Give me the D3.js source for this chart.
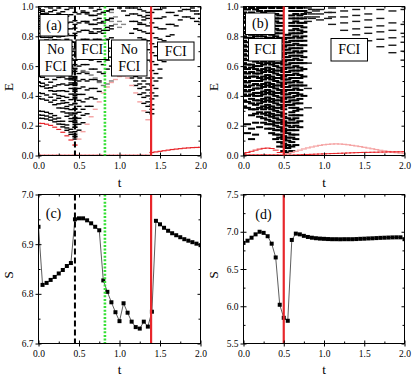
<!DOCTYPE html>
<html><head><meta charset="utf-8">
<script src="https://cdn.jsdelivr.net/npm/d3@7/dist/d3.min.js"></script>
<style>
html,body{margin:0;padding:0;background:#fff;}
svg{display:block;}
</style></head><body>
<svg id="fig" width="416" height="378"></svg>
<script>
// ---------------- data ----------------
const T = [0,0.05,0.1,0.15,0.2,0.25,0.3,0.35,0.4,0.45,0.5,0.55,0.6,0.65,0.7,0.75,0.8,0.85,0.9,0.95,1,1.05,1.1,1.15,1.2,1.25,1.3,1.35,1.4,1.45,1.5,1.55,1.6,1.65,1.7,1.75,1.8,1.85,1.9,1.95,2];

// panel (a): energy levels, each list starts at the given T index
const A_GROUND = [0,0,0,0,0,0,0,0,0,0,0,0,0,0,0,0,0,0,0,0,0,0,0,0,0,0,0,0];            // start 0
const A_GROUND2 = [0.020,0.024,0.028,0.032,0.036,0.040,0.043,0.046,0.049,0.051,0.053,0.054,0.055]; // start 28
const A_RED2 = [0.216,0.215,0.210,0.202,0.190,0.175,0.156,0.132,0.104,0.070];                 // start 0
const A_PINK = [0.07,0.11,0.16,0.21,0.26,0.31,0.36,0.42,0.46,0.49,0.51,0.53,0.535,0.52,0.47,0.42,0.36,0.30,0.24]; // start 9
const A_LEFT = [
 [0.250,0.249,0.245,0.237,0.226,0.211,0.192,0.169,0.142,0.110],
 [0.272,0.270,0.265,0.257,0.245,0.229,0.209,0.185,0.157,0.125],
 [0.298,0.296,0.290,0.281,0.268,0.251,0.230,0.205,0.176,0.143],
 [0.382,0.379,0.371,0.358,0.341,0.319,0.293,0.263,0.229,0.190],
 [0.420,0.416,0.406,0.391,0.371,0.347,0.318,0.285,0.248,0.207],
 [0.468,0.463,0.452,0.435,0.412,0.384,0.351,0.314,0.272,0.226],
 [0.490,0.485,0.473,0.455,0.431,0.402,0.368,0.329,0.285,0.237],
 [0.530,0.525,0.512,0.492,0.466,0.434,0.397,0.355,0.308,0.256],
 [0.580,0.574,0.560,0.538,0.510,0.475,0.435,0.390,0.340,0.285],
 [0.640,0.634,0.618,0.594,0.562,0.524,0.480,0.430,0.375,0.315],
 [0.700,0.693,0.676,0.650,0.616,0.574,0.526,0.472,0.412,0.347],
 [0.760,0.752,0.734,0.706,0.669,0.624,0.572,0.514,0.450,0.380],
 [0.800,0.793,0.775,0.747,0.709,0.662,0.607,0.545,0.476,0.402],
 [0.820,0.812,0.793,0.763,0.723,0.675,0.619,0.556,0.487,0.412],
 [0.850,0.842,0.822,0.791,0.750,0.700,0.642,0.578,0.508,0.432],
 [0.865,0.857,0.837,0.805,0.763,0.713,0.654,0.589,0.518,0.442],
 [0.880,0.872,0.851,0.819,0.777,0.726,0.666,0.600,0.528,0.452],
 [0.905,0.897,0.876,0.843,0.800,0.748,0.688,0.621,0.548,0.470],
 [0.920,0.912,0.890,0.857,0.814,0.761,0.700,0.632,0.558,0.479],
 [0.935,0.927,0.905,0.872,0.828,0.774,0.712,0.643,0.568,0.488],
 [0.960,0.952,0.930,0.896,0.851,0.796,0.733,0.663,0.587,0.506],
 [0.975,0.967,0.944,0.909,0.863,0.807,0.743,0.673,0.596,0.515],
 [0.985,0.977,0.955,0.920,0.874,0.818,0.754,0.683,0.606,0.524],
 [null,null,0.998,0.965,0.920,0.865,0.800,0.728,0.650,0.565],
 [null,null,null,0.990,0.945,0.890,0.825,0.752,0.672,0.585],
 [null,null,null,null,0.975,0.920,0.855,0.780,0.698,0.610],
 [null,null,null,null,null,0.955,0.890,0.815,0.730,0.640],
 [null,null,null,null,null,0.990,0.925,0.850,0.765,0.675],
 [null,null,null,null,null,null,0.965,0.890,0.805,0.715],
 [null,null,null,null,null,null,null,0.935,0.850,0.760],
 [null,null,null,null,null,null,null,0.980,0.895,0.805],
 [null,null,null,null,null,null,null,null,0.945,0.855],
 [null,null,null,null,null,null,null,null,0.990,0.905],
 [null,null,null,null,null,null,null,null,null,0.960]
]; // start 0
const A_MID = [
 [0.13,0.17,0.22,0.28,0.33,0.38,0.43,null,null,null],
 [0.16,0.21,0.27,0.33,0.39,0.45,0.50,0.55,0.58,0.60],
 [0.19,0.25,0.31,0.38,0.45,0.51,0.56,0.61,0.64,0.66],
 [0.22,0.29,0.36,0.44,0.51,0.58,0.63,0.67,0.70,0.72],
 [0.25,0.33,0.41,0.50,0.58,0.65,0.71,0.75,0.78,0.79],
 [0.28,0.37,0.46,0.55,0.64,0.72,0.78,0.82,0.84,0.85],
 [0.31,0.41,0.51,0.61,0.70,0.78,0.85,0.89,0.91,0.92],
 [0.35,0.45,0.56,0.66,0.76,0.85,0.92,0.96,0.97,0.98],
 [0.39,0.50,0.61,0.72,0.82,0.91,0.98,null,null,null],
 [0.43,0.55,0.66,0.78,0.88,0.97,null,null,null,null],
 [0.48,0.60,0.72,0.84,0.94,null,null,null,null,null],
 [0.53,0.65,0.78,0.90,0.99,null,null,null,null,null],
 [0.58,0.71,0.84,0.96,null,null,null,null,null,null],
 [0.64,0.77,0.90,null,null,null,null,null,null,null],
 [0.70,0.83,0.96,null,null,null,null,null,null,null],
 [0.76,0.89,null,null,null,null,null,null,null,null],
 [0.82,0.95,null,null,null,null,null,null,null,null],
 [0.88,null,null,null,null,null,null,null,null,null],
 [null,null,0.97,0.95,0.94,0.94,0.95,0.96,0.97,0.98],
 [null,null,null,0.89,0.88,0.88,0.89,0.90,0.91,0.92],
 [null,null,null,null,0.83,0.82,0.83,0.84,0.86,0.87]
]; // start 9
const A_MID_GRAY = [
 [null,null,0.57,0.56,0.54,0.52,0.49,0.47,0.48,0.50]
]; // start 9
const A_UP = [
 [0.99,0.97,0.94,0.90,0.85,0.79,0.72,0.64],
 [null,null,0.99,0.95,0.90,0.84,0.78,0.71],
 [null,null,null,0.99,0.95,0.89,0.83,0.77],
 [null,null,null,null,0.99,0.94,0.88,0.82],
 [null,null,null,null,null,0.98,0.93,0.87],
 [null,null,null,null,null,null,0.97,0.92],
 [null,null,null,null,null,null,null,0.96],
 [null,null,null,0.82,0.85,0.88,0.91,0.94]
]; // start 20
const A_UP_GRAY = [
 [0.96,0.93,0.90,0.88,null,null,null,null],
 [0.90,0.88,0.86,null,null,null,null,null]
]; // start 18
const A_LOW = [
 [0.56,0.52,0.47,0.41,0.35,0.29],
 [null,0.55,0.50,0.45,0.39,0.33],
 [null,null,0.53,0.48,0.42,0.36],
 [null,null,null,0.52,0.46,0.40],
 [null,null,null,null,0.50,0.44],
 [null,null,null,null,null,0.48],
 [null,null,null,null,null,0.52]
]; // start 22
const A_RIGHT = [
 [0.28,0.40,0.52,0.63,0.73,0.81,0.87,0.91,0.93,0.93,0.92,0.90,0.88],
 [0.31,0.45,0.58,0.70,0.80,0.88,0.94,0.97,0.98,0.98,0.97,0.95,0.92],
 [0.34,0.50,0.64,0.77,0.88,0.96,null,null,null,null,null,null,null],
 [0.38,0.55,0.71,0.85,0.96,null,null,null,null,null,null,null,null],
 [0.42,0.61,0.78,0.93,null,null,null,null,null,null,null,null,null],
 [0.47,0.67,0.85,0.99,null,null,null,null,null,null,null,null,null],
 [0.52,0.73,0.92,null,null,null,null,null,null,null,null,null,null],
 [0.57,0.79,0.98,null,null,null,null,null,null,null,null,null,null],
 [0.63,0.86,null,null,null,null,null,null,null,null,null,null,null],
 [0.69,0.92,null,null,null,null,null,null,null,null,null,null,null],
 [0.75,0.98,null,null,null,null,null,null,null,null,null,null,null],
 [0.82,null,null,null,null,null,null,null,null,null,null,null,null],
 [0.89,null,null,null,null,null,null,null,null,null,null,null,null],
 [0.96,null,null,null,null,null,null,null,null,null,null,null,null],
 [null,null,null,null,null,null,null,null,null,null,0.99,0.97,0.95]
]; // start 28

// panel (b): energies listed per T column (dense part, T index 0..15)
const B_DENSE = [
 [0.99,0.96,0.93,0.90,0.86,0.83,0.80,0.77,0.74,0.71,0.68,0.65,0.62,0.59,0.56,0.53,0.50,0.47,0.44,0.41,0.37,0.33],
 [0.98,0.95,0.92,0.89,0.85,0.82,0.79,0.76,0.73,0.70,0.67,0.64,0.61,0.58,0.55,0.52,0.49,0.46,0.43,0.40,0.36,0.32,0.21,0.15],
 [0.99,0.96,0.93,0.90,0.87,0.84,0.81,0.79,0.76,0.73,0.70,0.67,0.64,0.61,0.59,0.56,0.53,0.50,0.47,0.44,0.41,0.38,0.35,0.31,0.27,0.18,0.11],
 [0.98,0.95,0.92,0.89,0.86,0.83,0.80,0.78,0.75,0.72,0.69,0.66,0.63,0.60,0.58,0.55,0.53,0.50,0.48,0.45,0.42,0.40,0.37,0.34,0.31,0.28,0.22,0.14],
 [0.99,0.97,0.94,0.91,0.88,0.85,0.82,0.80,0.77,0.74,0.71,0.68,0.65,0.62,0.60,0.57,0.55,0.52,0.50,0.47,0.45,0.42,0.40,0.37,0.35,0.32,0.29,0.26,0.19],
 [0.99,0.96,0.94,0.91,0.88,0.86,0.83,0.80,0.78,0.75,0.72,0.69,0.66,0.63,0.61,0.58,0.56,0.53,0.51,0.48,0.46,0.43,0.41,0.38,0.36,0.33,0.31,0.28,0.25,0.22],
 [1.0,0.97,0.95,0.92,0.90,0.87,0.84,0.82,0.79,0.76,0.73,0.70,0.67,0.64,0.62,0.59,0.57,0.54,0.52,0.49,0.47,0.44,0.42,0.39,0.37,0.34,0.32,0.29,0.27,0.24,0.21,0.18],
 [0.99,0.97,0.94,0.92,0.89,0.87,0.84,0.81,0.79,0.76,0.74,0.71,0.68,0.66,0.63,0.61,0.58,0.56,0.53,0.51,0.48,0.46,0.43,0.41,0.38,0.36,0.33,0.31,0.28,0.26,0.23,0.21,0.18,0.15],
 [1.0,0.97,0.95,0.92,0.90,0.87,0.85,0.82,0.80,0.77,0.75,0.72,0.70,0.67,0.65,0.62,0.60,0.57,0.55,0.52,0.50,0.47,0.45,0.42,0.40,0.37,0.35,0.32,0.30,0.27,0.25,0.22,0.20,0.17,0.14,0.11],
 [0.99,0.97,0.94,0.92,0.89,0.87,0.84,0.82,0.79,0.77,0.74,0.72,0.69,0.67,0.64,0.62,0.59,0.57,0.54,0.52,0.49,0.47,0.44,0.42,0.39,0.37,0.34,0.32,0.29,0.27,0.24,0.22,0.19,0.17,0.14,0.12,0.09,0.06],
 [0.78,0.76,0.73,0.71,0.68,0.66,0.63,0.61,0.58,0.56,0.53,0.51,0.48,0.46,0.43,0.41,0.38,0.36,0.33,0.31,0.28,0.26,0.23,0.21,0.18,0.16,0.13,0.11,0.08,0.06,0.03],
 [0.81,0.79,0.76,0.74,0.71,0.69,0.66,0.64,0.61,0.59,0.56,0.54,0.51,0.49,0.46,0.44,0.41,0.39,0.36,0.34,0.25,0.22,0.20,0.17,0.15,0.12,0.10,0.07,0.05,0.02],
 [0.99,0.97,0.94,0.92,0.89,0.87,0.84,0.82,0.79,0.77,0.74,0.72,0.69,0.67,0.64,0.62,0.59,0.57,0.54,0.52,0.49,0.47,0.44,0.42,0.39,0.37,0.34,0.32,0.29,0.27,0.24,0.22,0.19,0.17,0.14,0.12,0.09,0.06,0.03],
 [1.0,0.97,0.95,0.92,0.90,0.87,0.85,0.82,0.80,0.77,0.75,0.72,0.70,0.67,0.65,0.62,0.60,0.57,0.55,0.52,0.50,0.47,0.45,0.42,0.40,0.37,0.35,0.32,0.30,0.27,0.25,0.22,0.20,0.17,0.14,0.11,0.07],
 [0.99,0.97,0.94,0.92,0.89,0.87,0.84,0.82,0.79,0.77,0.74,0.72,0.69,0.67,0.64,0.62,0.59,0.57,0.54,0.52,0.49,0.47,0.44,0.41,0.38,0.35,0.31,0.27,0.23,0.19],
 [1.0,0.97,0.95,0.92,0.89,0.86,0.83,0.80,0.77,0.74,0.70,0.66,0.62,0.58,0.53,0.47,0.40]
];
// sparse part (T index 16..40)
const B_SPARSE = [
 [0.99,0.96,0.93,0.90,0.62,0.45,0.32],
 [0.98,0.95,0.92],
 [0.97,0.93],
 [0.98,0.95,0.91],
 [],
 [0.96,0.92],
 [0.99,0.96,0.93,0.88],
 [],[],
 [0.97,0.93,0.89,0.84],
 [],[],
 [0.98,0.94,0.90,0.85,0.81],
 [],[],
 [0.95,0.91,0.86,0.82,0.77],
 [],[],
 [0.98,0.92,0.87,0.83,0.78,0.73],
 [],[],
 [0.97,0.89,0.84,0.79,0.74,0.69],
 [],[],
 [0.98,0.88,0.82,0.76,0.70,0.64]
];
const B_RED0 = [0.004,0.004,0.004,0.004,0.004,0.004,0.004,0.004,0.004,0.004,0.004];   // start 0
const B_RED1 = [0.012,0.020,0.028,0.036,0.043,0.048,0.050,0.047,0.036,0.020,0.004];   // start 0
const B_PINK = [0.004,0.012,0.020,0.028,0.036,0.044,0.051,0.057,0.063,0.068,0.072,0.075,0.077,0.078,0.077,0.075,0.072,0.068,0.064,0.060,0.055,0.050,0.045,0.040,0.035,0.031,0.027,0.023,0.019,0.016,0.013]; // start 10
const B_RED2 = [0.002,0.003,0.004,0.005,0.006,0.007,0.008,0.009,0.010,0.011,0.012,0.013,0.014,0.015,0.016,0.017,0.018,0.019,0.020,0.021,0.021,0.022,0.022,0.023,0.023,0.024,0.024,0.025,0.025,0.026]; // start 11

// panels (c), (d): S values
const S_C = [6.935,6.818,6.822,6.828,6.834,6.841,6.848,6.856,6.862,6.950,6.952,6.952,6.948,6.942,6.935,6.928,6.827,6.804,6.783,6.763,6.745,6.781,6.762,6.744,6.733,6.730,6.744,6.734,6.764,6.947,6.940,6.933,6.927,6.922,6.918,6.914,6.910,6.907,6.904,6.901,6.898];
const S_D = [6.85,6.88,6.92,6.965,7.0,6.985,6.94,6.84,6.655,6.02,5.845,5.805,6.89,6.975,6.965,6.945,6.93,6.92,6.913,6.908,6.905,6.902,6.9,6.9,6.899,6.9,6.9,6.9,6.902,6.905,6.907,6.91,6.912,6.915,6.918,6.92,6.922,6.924,6.925,6.925,6.90];

// tick labels
const X_TICKS = [0,0.5,1,1.5,2], X_MINOR = [0.25,0.75,1.25,1.75];
const E_TICKS = [0,0.2,0.4,0.6,0.8,1.0], E_MINOR = [0.1,0.3,0.5,0.7,0.9];
const SC_TICKS = [6.7,6.8,6.9,7.0], SC_MINOR = [6.75,6.85,6.95];
const SD_TICKS = [5.5,6.0,6.5,7.0,7.5], SD_MINOR = [5.75,6.25,6.75,7.25];
const LINES_AC = [{t:0.45,type:'black'},{t:0.82,type:'green'},{t:1.39,type:'red'}];
const LINES_BD = [{t:0.5,type:'red'}];

// ---------------- drawing ----------------
const SERIF = "'Liberation Serif', 'Times New Roman', 'DejaVu Serif', serif";
const svg = d3.select('#fig');
const fmt = d3.format('.1f');
const RED = '#e8262b', PINK = '#f5a3a3', GREEN = '#35e035';

function makePanel(id, xr, yr, ydom, yt, ym, ylab) {
  const x = d3.scaleLinear().domain([0,2]).range(xr);
  const y = d3.scaleLinear().domain(ydom).range(yr);
  const g = svg.append('g');
  g.append('clipPath').attr('id','clip'+id).append('rect')
    .attr('x',xr[0]).attr('y',yr[1]).attr('width',xr[1]-xr[0]).attr('height',yr[0]-yr[1]);
  const plot = g.append('g').attr('clip-path','url(#clip'+id+')');
  return {x,y,g,plot,xr,yr,yt,ym,ylab};
}

function drawAxes(p, xtitleY, ytitleX) {
  const {x,y,g,xr,yr} = p;
  const clean = s => { s.attr('font-family',null); s.select('.domain').remove();
    s.selectAll('text').style('font-family',SERIF).style('font-size','9.5px').attr('fill','#000');
    s.selectAll('line').attr('stroke','#000'); };
  g.append('g').attr('transform',`translate(0,${yr[0]})`).call(d3.axisBottom(x).tickValues(X_TICKS).tickSize(3).tickPadding(3.5).tickFormat(fmt)).call(clean);
  g.append('g').attr('transform',`translate(0,${yr[0]})`).call(d3.axisBottom(x).tickValues(X_TICKS).tickSize(-3).tickFormat('')).call(clean);
  g.append('g').attr('transform',`translate(0,${yr[0]})`).call(d3.axisBottom(x).tickValues(X_MINOR).tickSize(-2).tickFormat('')).call(clean);
  g.append('g').attr('transform',`translate(0,${yr[1]})`).call(d3.axisTop(x).tickValues(X_TICKS).tickSize(-3).tickFormat('')).call(clean);
  g.append('g').attr('transform',`translate(0,${yr[1]})`).call(d3.axisTop(x).tickValues(X_MINOR).tickSize(-2).tickFormat('')).call(clean);
  g.append('g').attr('transform',`translate(${xr[0]},0)`).call(d3.axisLeft(y).tickValues(p.yt).tickSize(3).tickPadding(2).tickFormat(fmt)).call(clean);
  g.append('g').attr('transform',`translate(${xr[0]},0)`).call(d3.axisLeft(y).tickValues(p.yt).tickSize(-3).tickFormat('')).call(clean);
  g.append('g').attr('transform',`translate(${xr[0]},0)`).call(d3.axisLeft(y).tickValues(p.ym).tickSize(-2).tickFormat('')).call(clean);
  g.append('g').attr('transform',`translate(${xr[1]},0)`).call(d3.axisRight(y).tickValues(p.yt).tickSize(-3).tickFormat('')).call(clean);
  g.append('g').attr('transform',`translate(${xr[1]},0)`).call(d3.axisRight(y).tickValues(p.ym).tickSize(-2).tickFormat('')).call(clean);
  g.append('rect').attr('x',xr[0]).attr('y',yr[1]).attr('width',xr[1]-xr[0]).attr('height',yr[0]-yr[1])
    .attr('fill','none').attr('stroke','#000').attr('stroke-width',1);
  g.append('text').attr('x',(xr[0]+xr[1])/2).attr('y',xtitleY).attr('text-anchor','middle')
    .style('font-family',SERIF).style('font-size','13px').text('t');
  const cy = (yr[0]+yr[1])/2 + 6;
  g.append('text').attr('transform',`translate(${ytitleX},${cy}) rotate(-90)`).attr('text-anchor','middle')
    .style('font-family',SERIF).style('font-size','13px').text(p.ylab);
}

function dashes(p, levels, start, color, w, h) {
  const pts = [];
  levels.forEach(L => L.forEach((e,j) => { if (e !== null && e !== undefined) pts.push([T[start+j], e]); }));
  p.plot.append('g').selectAll('rect').data(pts).join('rect')
    .attr('x', d => p.x(d[0]) - w/2).attr('y', d => p.y(d[1]) - h/2)
    .attr('width', w).attr('height', h).attr('fill', color);
}

function columns(p, cols, start, color, w, h) {
  const pts = [];
  cols.forEach((c,i) => c.forEach(e => pts.push([T[start+i], e])));
  p.plot.append('g').selectAll('rect').data(pts).join('rect')
    .attr('x', d => p.x(d[0]) - w/2).attr('y', d => p.y(d[1]) - h/2)
    .attr('width', w).attr('height', h).attr('fill', color);
}

function vlines(p, lines) {
  lines.forEach(l => {
    const ln = p.g.append('line').attr('x1',p.x(l.t)).attr('x2',p.x(l.t))
      .attr('y1',p.yr[1]).attr('y2',p.yr[0]);
    if (l.type==='red') ln.attr('stroke',RED).attr('stroke-width',2.2);
    if (l.type==='green') ln.attr('stroke',GREEN).attr('stroke-width',2.6).attr('stroke-dasharray','2,1.6');
    if (l.type==='black') ln.attr('stroke','#000').attr('stroke-width',2).attr('stroke-dasharray','6,3');
  });
}

function box(p, x0, y0, x1, y1, lines, size) {
  p.g.append('rect').attr('x',x0).attr('y',y0).attr('width',x1-x0).attr('height',y1-y0)
    .attr('fill','#fff').attr('stroke','#000').attr('stroke-width',1);
  const cx = (x0+x1)/2, cy = (y0+y1)/2;
  const lh = 17;
  lines.forEach((s,i) => {
    p.g.append('text').attr('x',cx).attr('y',cy + (i-(lines.length-1)/2)*lh + size*0.33)
      .attr('text-anchor','middle').style('font-family',SERIF).style('font-size',size+'px').text(s);
  });
}

// ---- panel (a)
const pa = makePanel('a',[38.5,200.5],[155.5,6.5],[0,1],E_TICKS,E_MINOR,'E');
dashes(pa, A_LEFT, 0, '#000', 5, 1.4);
dashes(pa, A_MID, 9, '#000', 5, 1.4);
dashes(pa, A_MID_GRAY, 9, '#777', 5, 1.4);
dashes(pa, A_UP, 20, '#000', 5, 1.4);
dashes(pa, A_UP_GRAY, 18, '#888', 5, 1.4);
dashes(pa, A_LOW, 22, '#000', 5, 1.4);
dashes(pa, A_RIGHT, 28, '#000', 5, 1.4);
dashes(pa, [A_PINK], 9, PINK, 5, 1.4);
dashes(pa, [A_RED2], 0, RED, 5, 1.2);
dashes(pa, [A_GROUND], 0, RED, 5, 1.6);
dashes(pa, [A_GROUND2], 28, RED, 5, 1.2);
drawAxes(pa, 187, 13);
box(pa, 40, 14.5, 68, 36, ['(a)'], 14);
box(pa, 39.5, 40, 72, 76, ['No','FCI'], 14);
box(pa, 76, 40, 108.5, 59.5, ['FCI'], 14);
box(pa, 111.5, 40, 147, 76, ['No','FCI'], 14);
box(pa, 157.5, 42, 194, 60, ['FCI'], 14);
vlines(pa, LINES_AC);

// ---- panel (b)
const pb = makePanel('b',[243.5,404.5],[155.5,6.5],[0,1],E_TICKS,E_MINOR,'E');
columns(pb, B_DENSE, 0, '#000', 7, 2);
columns(pb, B_SPARSE, 16, '#1a1a1a', 8, 1.4);
dashes(pb, [B_RED0], 0, RED, 6, 1);
dashes(pb, [B_RED1], 0, RED, 6, 1);
dashes(pb, [B_PINK], 10, PINK, 6, 1.2);
dashes(pb, [B_RED2], 11, RED, 6, 1);
drawAxes(pb, 187, 218);
box(pb, 245.5, 13, 275, 34.5, ['(b)'], 14);
box(pb, 248.5, 38.5, 282, 61, ['FCI'], 14);
box(pb, 331, 38.5, 367.5, 61, ['FCI'], 14);
vlines(pb, LINES_BD);

// ---- panels (c), (d)
function sPanel(id, xr, dom, yt, ym, data, lines, label, labPos) {
  const p = makePanel(id, xr, [343.5,194.5], dom, yt, ym, 'S');
  vlines(p, lines);
  const pts = T.map((t,i) => [t, data[i]]);
  p.plot.append('path').datum(pts).attr('fill','none').attr('stroke','#333').attr('stroke-width',0.8)
    .attr('d', d3.line().x(d=>p.x(d[0])).y(d=>p.y(d[1])));
  p.plot.append('g').selectAll('rect').data(pts).join('rect')
    .attr('x',d=>p.x(d[0])-2).attr('y',d=>p.y(d[1])-2).attr('width',4).attr('height',4).attr('fill','#000');
  p.g.append('text').attr('x',labPos[0]).attr('y',labPos[1]).attr('text-anchor','middle')
    .style('font-family',SERIF).style('font-size','14px').text(label);
  return p;
}
const pc = sPanel('c',[38.5,200.5],[6.7,7.0],SC_TICKS,SC_MINOR,S_C,LINES_AC,'(c)',[53.5,217.5]);
drawAxes(pc, 374, 13);
const pd = sPanel('d',[243.5,404.5],[5.5,7.5],SD_TICKS,SD_MINOR,S_D,LINES_BD,'(d)',[263.5,219]);
drawAxes(pd, 374, 218);
</script>
</body></html>
